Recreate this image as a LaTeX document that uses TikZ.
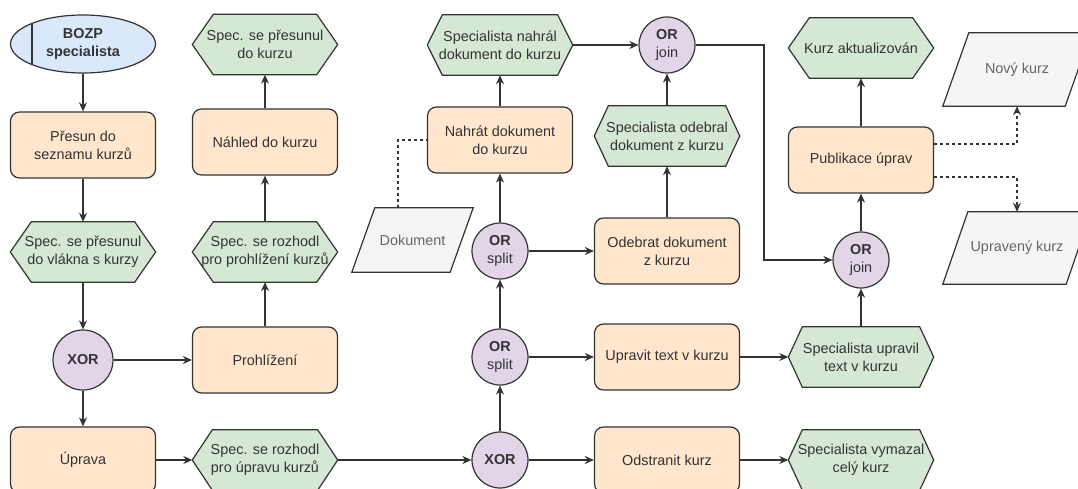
\documentclass[tikz,border=0pt]{standalone}
\usepackage{fontspec}
\setmainfont{Liberation Sans}
\usetikzlibrary{arrows.meta,calc,shapes.geometric}
\pgfdeclarelayer{canvas}
\pgfdeclarelayer{bg}
\pgfsetlayers{canvas,bg,main}

\definecolor{orfill}{HTML}{FFE6CC}
\definecolor{grfill}{HTML}{D5E8D4}
\definecolor{pufill}{HTML}{E1D5E7}
\definecolor{blfill}{HTML}{DAE8FC}
\definecolor{gyfill}{HTML}{F5F5F5}
\definecolor{edge}{HTML}{333333}
\definecolor{txt}{HTML}{333333}
\definecolor{datatxt}{HTML}{666666}

\begin{document}
\begin{tikzpicture}[x=1pt,y=-1pt,
  every node/.style={font=\fontsize{14.4}{18}\selectfont, text=txt, align=center, inner sep=0pt},
  task/.style={draw=edge, line width=1.2pt, fill=orfill, rounded corners=9pt,
               minimum width=145pt, minimum height=66pt},
  gate/.style={circle, draw=edge, line width=1.2pt, fill=pufill, minimum size=56pt},
  actor/.style={ellipse, draw=edge, line width=1.2pt, fill=blfill,
                minimum width=145pt, minimum height=58pt, font=\fontsize{14.4}{18}\selectfont\bfseries},
  hexa/.style={minimum width=145pt, minimum height=60pt},
  hexline/.style={draw=edge, line width=1.2pt, fill=grfill, line join=miter},
  datanode/.style={text=datatxt},
  dataline/.style={draw=edge, line width=1.2pt, fill=gyfill},
  arr/.style={draw=edge, line width=1.2pt, -{Stealth[length=9pt,width=8pt]}},
  dasharr/.style={draw=edge, line width=1.2pt, dashed, -{Stealth[length=9pt,width=8pt]}},
  dashlink/.style={draw=edge, line width=1.2pt, dashed}
]
\useasboundingbox (0,0) rectangle (1078,489);
\begin{pgfonlayer}{canvas}
\fill[white] (0,0) rectangle (1078,489);
\end{pgfonlayer}

% --- first column
\node[actor] (bozp) at (83,44) {BOZP\\specialista};
\draw[draw=edge, line width=1.2pt] ($(bozp.center)+(-51,-20.6)$) -- ($(bozp.center)+(-51,20.6)$);
\node[task] (presun) at (83,145) {Přesun do\\seznamu kurzů};
\node[hexa] (h1) at (83,252) {Spec. se přesunul\\do vlákna s kurzy};
\node[gate, minimum size=60pt, font=\fontsize{14.4}{18}\selectfont\bfseries] (xor1) at (83,360) {XOR};
\node[task] (uprava) at (83,460) {Úprava};

% --- second column
\node[hexa] (h2) at (265,44.5) {Spec. se přesunul\\do kurzu};
\node[task] (nahled) at (265,142) {Náhled do kurzu};
\node[hexa] (h3) at (265,252) {Spec. se rozhodl\\pro prohlížení kurzů};
\node[task] (prohl) at (265,360) {Prohlížení};
\node[hexa] (h4) at (265,460) {Spec. se rozhodl\\pro úpravu kurzů};

% --- document input
\node[datanode, minimum width=121pt, minimum height=64pt] (dok) at (412.5,240) {Dokument};

% --- third column
\node[hexa] (h5) at (500,45) {Specialista nahrál\\dokument do kurzu};
\node[task] (nahrat) at (500,140) {Nahrát dokument\\do kurzu};
\node[gate] (ors1) at (500,251) {\textbf{OR}\\split};
\node[gate] (ors2) at (500,357) {\textbf{OR}\\split};
\node[gate, font=\fontsize{14.4}{18}\selectfont\bfseries] (xor2) at (500,460) {XOR};

% --- fourth column
\node[gate] (orj1) at (667,45) {\textbf{OR}\\join};
\node[hexa] (h6) at (667,136) {Specialista odebral\\dokument z kurzu};
\node[task] (odebrat) at (667,251) {Odebrat dokument\\z kurzu};
\node[task] (upravit) at (667,357) {Upravit text v kurzu};
\node[task] (odstranit) at (667,460) {Odstranit kurz};

% --- fifth column
\node[hexa] (h7) at (861,48) {Kurz aktualizován};
\node[task] (publ) at (861,160) {Publikace úprav};
\node[gate] (orj2) at (861,260) {\textbf{OR}\\join};
\node[hexa] (h8) at (861,357) {Specialista upravil\\text v kurzu};
\node[hexa] (h9) at (861,460) {Specialista vymazal\\celý kurz};

% --- outputs
\node[datanode, minimum width=148pt, minimum height=73pt] (novy) at (1017,69.5) {Nový kurz};
\node[datanode, minimum width=148pt, minimum height=72pt] (upraveny) at (1017,248) {Upravený kurz};

% --- outlines of events and data objects
\begin{pgfonlayer}{bg}
\foreach \n/\d in {h1/21,h2/21,h3/21,h4/20,h5/15,h6/14,h7/21,h8/14,h9/14}
  \draw[hexline] (\n.west) -- ([xshift=\d]\n.north west) -- ([xshift=-\d]\n.north east)
     -- (\n.east) -- ([xshift=-\d]\n.south east) -- ([xshift=\d]\n.south west) -- cycle;
\foreach \n/\s in {dok/23,novy/26,upraveny/25}
  \draw[dataline] (\n.south west) -- ([xshift=-\s]\n.south east) -- (\n.north east)
     -- ([xshift=\s]\n.north west) -- cycle;
\end{pgfonlayer}

% --- flow
\draw[arr] (bozp) -- (presun);
\draw[arr] (presun) -- (h1);
\draw[arr] (h1) -- (xor1);
\draw[arr] (xor1) -- (uprava);
\draw[arr] (xor1) -- (prohl);
\draw[arr] (prohl) -- (h3);
\draw[arr] (h3) -- (nahled);
\draw[arr] (nahled) -- (h2);
\draw[arr] (uprava) -- (h4);
\draw[arr] (h4) -- (xor2);
\draw[arr] (xor2) -- (odstranit);
\draw[arr] (odstranit) -- (h9);
\draw[arr] (xor2) -- (ors2);
\draw[arr] (ors2) -- (upravit);
\draw[arr] (upravit) -- (h8);
\draw[arr] (h8) -- (orj2);
\draw[arr] (ors2) -- (ors1);
\draw[arr] (ors1) -- (nahrat);
\draw[arr] (ors1) -- (odebrat);
\draw[arr] (nahrat) -- (h5);
\draw[arr] (h5) -- (orj1);
\draw[arr] (odebrat) -- (h6);
\draw[arr] (h6) -- (orj1);
\coordinate (bend) at (764,45);
\draw[arr] (orj1.east) -- (bend) |- (orj2.west);
\draw[arr] (orj2) -- (publ);
\draw[arr] (publ) -- (h7);

% --- data links
\draw[dashlink] ([xshift=-14.5]dok.north) |- (nahrat.west);
\draw[dasharr] ([yshift=16]publ.east) -| (novy.south);
\draw[dasharr] ([yshift=-17]publ.east) -| (upraveny.north);
\end{tikzpicture}
\end{document}
